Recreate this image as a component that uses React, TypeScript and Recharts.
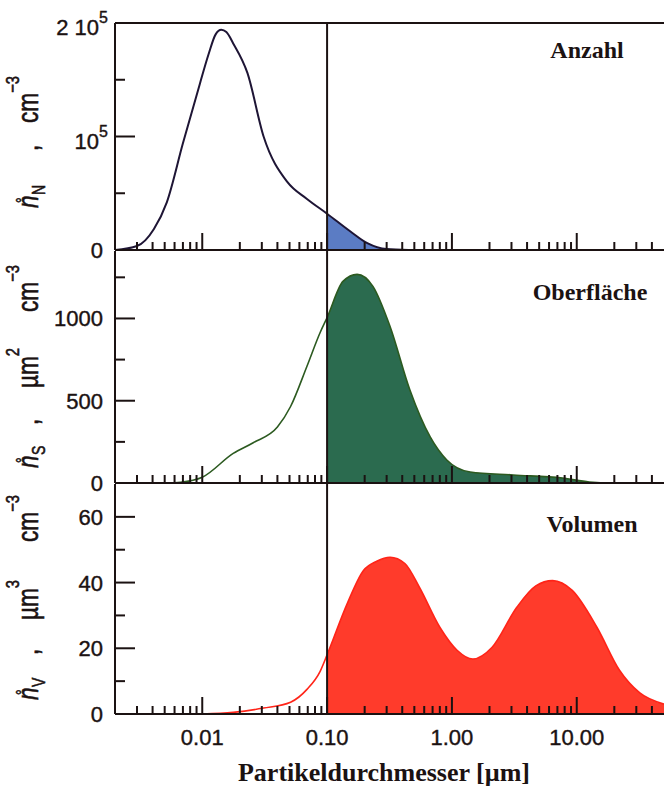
import { Area, ComposedChart, ReferenceLine, XAxis, YAxis } from "recharts";

const SANS = "'Liberation Sans', Arial, Helvetica, sans-serif";
const SERIF = "'Liberation Serif', 'Times New Roman', Times, serif";
const INK = "#1b1212";

// x axis (particle diameter, µm, log scale)
const diamDomain = [0.002, 50];
const diamTicks = [
  0.002, 0.003, 0.004, 0.005, 0.006, 0.007, 0.008, 0.009,
  0.01, 0.02, 0.03, 0.04, 0.05, 0.06, 0.07, 0.08, 0.09,
  0.1, 0.2, 0.3, 0.4, 0.5, 0.6, 0.7, 0.8, 0.9,
  1, 2, 3, 4, 5, 6, 7, 8, 9,
  10, 20, 30, 40,
];
const decadeTicks = [0.01, 0.1, 1, 10];
const decadeLabels = ["0.01", "0.10", "1.00", "10.00"];
const cutDiameter = 0.1;

// Anzahl
const numberDiam = [0.002, 0.003, 0.0041, 0.0052, 0.007, 0.0096, 0.0112, 0.0128, 0.0142, 0.0156, 0.0177, 0.023, 0.031, 0.048, 0.069, 0.1, 0.153, 0.21, 0.3, 0.45];
const numberConc = [0, 3500, 18500, 42000, 94000, 147000, 172000, 190000, 194000, 192000, 182000, 156000, 100000, 60000, 45000, 32000, 16500, 6000, 800, 0];
const numberTicks = [0, 50000, 100000, 150000, 200000];
const numberMajor = [0, 100000, 200000];
const numberLabels = ["0", "10", "2 10"];
const numberExps = ["", "5", "5"];

// Oberfläche
const surfaceDiam = [0.005, 0.0067, 0.01, 0.0177, 0.0256, 0.04, 0.051, 0.069, 0.088, 0.1, 0.134, 0.174, 0.233, 0.32, 0.46, 0.67, 0.91, 1.4, 3.1, 7.7, 12.6, 19, 50];
const surfaceConc = [0, 5, 35, 180, 245, 340, 465, 710, 915, 1005, 1225, 1268, 1195, 950, 567, 280, 140, 67, 49, 30, 6, 0, 0];
const surfaceTicks = [0, 250, 500, 750, 1000, 1250];
const surfaceMajor = [0, 500, 1000];
const surfaceLabels = ["0", "500", "1000"];

// Volumen
const volumeDiam = [0.01, 0.0177, 0.031, 0.051, 0.069, 0.088, 0.1, 0.145, 0.195, 0.25, 0.32, 0.42, 0.55, 0.8, 1.1, 1.47, 2.1, 3.3, 4.7, 6.4, 9.2, 14.5, 22, 32, 50];
const volumeConc = [0, 0.5, 1.8, 3.6, 7.5, 13, 18, 33.6, 43.6, 46.5, 47.7, 45.8, 38.5, 26.4, 19.4, 16.7, 20.3, 32.4, 39, 40.6, 37.6, 26.4, 13.3, 6.4, 3];
const volumeTicks = [0, 10, 20, 30, 40, 50, 60];
const volumeMajor = [0, 20, 40, 60];
const volumeLabels = ["0", "20", "40", "60"];

// where 0.1 µm falls inside the area's bounding box (log scale)
function cutFraction(xs: number[]) {
  const a = Math.log10(xs[0]);
  const b = Math.log10(xs[xs.length - 1]);
  return (Math.log10(cutDiameter) - a) / (b - a);
}

function XTick(props: any) {
  const { x, y, payload, showLabels } = props;
  const i = decadeTicks.indexOf(payload.value);
  const len = i >= 0 ? 17 : 8;
  return (
    <g>
      <line x1={x} x2={x} y1={y} y2={y - len} stroke={INK} strokeWidth={2} />
      {showLabels && i >= 0 && (
        <text x={x} y={y + 31} textAnchor="middle" fontFamily={SANS} fontSize={22} fill={INK} stroke={INK} strokeWidth={0.4}>
          {decadeLabels[i]}
        </text>
      )}
    </g>
  );
}

function YTick(props: any) {
  const { x, y, payload, majors, labels, exps } = props;
  const i = majors.indexOf(payload.value);
  const len = i >= 0 ? 20 : 10;
  const exp = i >= 0 && exps ? exps[i] : "";
  return (
    <g>
      <line x1={x} x2={x + len} y1={y} y2={y} stroke={INK} strokeWidth={2} />
      {i >= 0 && (
        <text x={x - (exp ? 7 : 12)} y={y + (exp ? 12 : 8)} textAnchor="end" fontFamily={SANS} fontSize={22} fill={INK} stroke={INK} strokeWidth={0.4}>
          {labels[i]}
          {exp && (
            <tspan dy={-12} fontSize={16}>
              {exp}
            </tspan>
          )}
        </text>
      )}
    </g>
  );
}

type PanelProps = {
  id: string;
  diam: number[];
  conc: number[];
  yMax: number;
  yTicks: number[];
  yMajor: number[];
  yLabels: string[];
  yExps?: string[];
  line: string;
  fill: string;
  lineWidth: number;
  height: number;
  top: number;
  axisH: number;
  showX: boolean;
  border: boolean;
};

function Panel(p: PanelProps) {
  const data = p.diam.map((d, i) => ({ d, v: p.conc[i] }));
  const f = cutFraction(p.diam);
  return (
    <ComposedChart width={664} height={p.height} data={data} margin={{ top: p.top, right: 0, bottom: 0, left: 0 }}>
      <defs>
        <linearGradient id={p.id} x1="0" y1="0" x2="1" y2="0">
          <stop offset={f} stopColor={p.fill} stopOpacity={0} />
          <stop offset={f} stopColor={p.fill} stopOpacity={1} />
        </linearGradient>
      </defs>
      <Area
        dataKey="v"
        type="monotone"
        stroke={p.line}
        strokeWidth={p.lineWidth}
        fill={`url(#${p.id})`}
        fillOpacity={1}
        dot={false}
        activeDot={false}
        isAnimationActive={false}
      />
      <ReferenceLine x={cutDiameter} stroke={INK} strokeWidth={2} />
      {p.border && <ReferenceLine y={p.yMax} stroke={INK} strokeWidth={2} />}
      <XAxis
        dataKey="d"
        type="number"
        scale="log"
        domain={diamDomain}
        allowDataOverflow
        ticks={diamTicks}
        interval={0}
        height={p.axisH}
        tickSize={0}
        tickMargin={0}
        tickLine={false}
        axisLine={{ stroke: INK, strokeWidth: 2 }}
        tick={(t: any) => <XTick {...t} showLabels={p.showX} />}
      />
      <YAxis
        type="number"
        domain={[0, p.yMax]}
        allowDataOverflow
        ticks={p.yTicks}
        interval={0}
        width={115}
        tickSize={0}
        tickMargin={0}
        tickLine={false}
        axisLine={{ stroke: INK, strokeWidth: 2 }}
        tick={(t: any) => <YTick {...t} majors={p.yMajor} labels={p.yLabels} exps={p.yExps} />}
      />
    </ComposedChart>
  );
}

function YTitle({ x, y, sub, unit, unitExp, commaAt, unitAt, cmAt }: any) {
  const k = 0.78;
  const X = (v: number) => v / k;
  return (
    <text
      transform={`translate(${x},${y}) rotate(-90) scale(${k},1)`}
      fontFamily={SANS}
      fontSize={29}
      fill={INK}
      stroke={INK}
      strokeWidth={0.6}
    >
      <tspan x={0} y={0} fontStyle="italic">n</tspan>
      <tspan x={X(5)} y={-9} fontSize={18}>°</tspan>
      <tspan x={X(13)} y={7} fontSize={18}>{sub}</tspan>
      <tspan x={X(commaAt)} y={0}>,</tspan>
      {unit && (
        <>
          <tspan x={X(unitAt)} y={0}>{unit}</tspan>
          <tspan y={-19} fontSize={19}>{unitExp}</tspan>
        </>
      )}
      <tspan x={X(cmAt)} y={0}>cm</tspan>
      <tspan y={-19} fontSize={19}>−3</tspan>
    </text>
  );
}

export default function App() {
  return (
    <div style={{ position: "absolute", left: 0, top: 0, width: 664, height: 786, background: "#fff", overflow: "hidden" }}>
      <style>{`.recharts-surface { overflow: visible; }`}</style>
      <div style={{ position: "absolute", left: 0, top: 0 }}>
        <Panel
          id="fillN"
          diam={numberDiam}
          conc={numberConc}
          yMax={200000}
          yTicks={numberTicks}
          yMajor={numberMajor}
          yLabels={numberLabels}
          yExps={numberExps}
          line="#1e1535"
          fill="#5b7cc4"
          lineWidth={2}
          height={252}
          top={23}
          axisH={2}
          showX={false}
          border
        />
      </div>
      <div style={{ position: "absolute", left: 0, top: 250 }}>
        <Panel
          id="fillS"
          diam={surfaceDiam}
          conc={surfaceConc}
          yMax={1410}
          yTicks={surfaceTicks}
          yMajor={surfaceMajor}
          yLabels={surfaceLabels}
          line="#2c5a20"
          fill="#2b6b4f"
          lineWidth={1.6}
          height={235}
          top={1}
          axisH={2}
          showX={false}
          border={false}
        />
      </div>
      <div style={{ position: "absolute", left: 0, top: 483 }}>
        <Panel
          id="fillV"
          diam={volumeDiam}
          conc={volumeConc}
          yMax={70}
          yTicks={volumeTicks}
          yMajor={volumeMajor}
          yLabels={volumeLabels}
          line="#ff2418"
          fill="#ff3b2b"
          lineWidth={1.6}
          height={303}
          top={1}
          axisH={72}
          showX
          border={false}
        />
      </div>
      <svg width={664} height={786} style={{ position: "absolute", left: 0, top: 0, pointerEvents: "none" }}>
        <YTitle x={38} y={208} sub="N" commaAt={57} cmAt={85} />
        <YTitle x={38} y={468} sub="S" unit="µm" unitExp="2" commaAt={43} unitAt={80} cmAt={156} />
        <YTitle x={38} y={700} sub="V" unit="µm" unitExp="3" commaAt={45} unitAt={80} cmAt={158} />
        <g fontFamily={SERIF} fontWeight="bold" fontSize={24} fill={INK} textAnchor="middle">
          <text x={587} y={58}>Anzahl</text>
          <text x={590} y={300}>Oberfläche</text>
          <text x={592} y={532}>Volumen</text>
        </g>
        <text x={384} y={781} textAnchor="middle" fontFamily={SERIF} fontWeight="bold" fontSize={26} fill={INK}>
          Partikeldurchmesser [µm]
        </text>
      </svg>
    </div>
  );
}
